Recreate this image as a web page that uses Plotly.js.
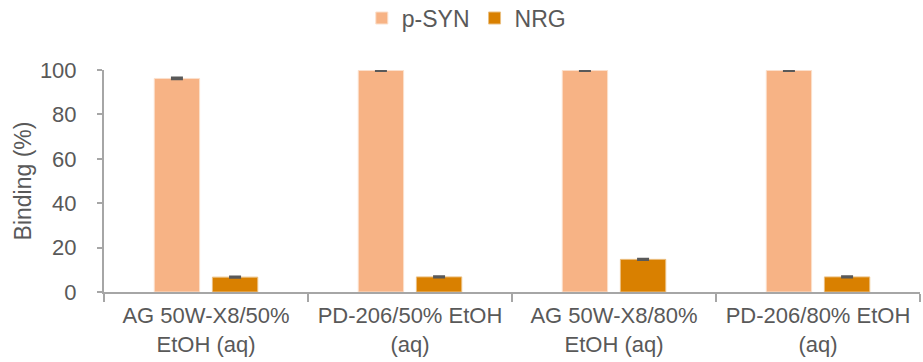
<!DOCTYPE html>
<html><head><meta charset="utf-8">
<script src="https://cdn.plot.ly/plotly-3.0.1.min.js"></script>
<style>body{margin:0;}#c{width:923px;height:362px;}</style>
</head><body><div id="c"></div>
<script>
var categories = ["AG 50W-X8/50%<br>EtOH (aq)", "PD-206/50% EtOH<br>(aq)", "AG 50W-X8/80%<br>EtOH (aq)", "PD-206/80% EtOH<br>(aq)"];
var pSYN = [96.2, 99.8, 99.8, 99.8];
var pSYNErr = [0.4, 0.3, 0.3, 0.3];
var NRG = [6.7, 6.8, 14.7, 6.8];
var NRGErr = [0.3, 0.3, 0.3, 0.3];
var yTicks = [0, 20, 40, 60, 80, 100];

var errStyle = {type: 'data', visible: true, color: '#595959', thickness: 2, width: 6};
var traces = [
  {type: 'bar', name: 'p-SYN', x: categories, y: pSYN,
   error_y: Object.assign({array: pSYNErr}, errStyle),
   marker: {color: '#F7B385', line: {color: '#FBE0CC', width: 1}}},
  {type: 'bar', name: 'NRG', x: categories, y: NRG,
   error_y: Object.assign({array: NRGErr}, errStyle),
   marker: {color: '#D98000', line: {color: '#EBBF80', width: 1}}}
];
var layout = {
  width: 923, height: 362,
  margin: {l: 104, r: 3, t: 70, b: 70, autoexpand: false},
  paper_bgcolor: '#fff', plot_bgcolor: '#fff',
  font: {family: 'Liberation Sans, Arial, sans-serif', color: '#595959', size: 22},
  barmode: 'group', bargap: 0.43, bargroupgap: 0.22,
  showlegend: true,
  legend: {orientation: 'h', x: 0.444, xanchor: 'center', y: 1.234, yanchor: 'middle',
           font: {size: 23, color: '#595959'}, itemwidth: 30, traceorder: 'normal'},
  xaxis: {type: 'category', showline: true, linecolor: '#A6A6A6', linewidth: 2,
          ticks: 'outside', tickson: 'boundaries', ticklen: 8, tickcolor: '#A6A6A6', tickwidth: 2,
          showgrid: false, tickfont: {size: 22, color: '#595959'}, ticklabelstandoff: 3},
  yaxis: {range: [0, 100], tickvals: yTicks, showline: true, linecolor: '#A6A6A6', linewidth: 2,
          ticks: 'outside', ticklen: 5, tickcolor: '#A6A6A6', tickwidth: 2, showgrid: false, zeroline: false,
          tickfont: {size: 22, color: '#595959'}, ticklabelstandoff: 16,
          title: {text: 'Binding (%)', font: {size: 23, color: '#595959'}, standoff: 2}}
};
Plotly.newPlot('c', traces, layout, {displayModeBar: false, staticPlot: true});
</script></body></html>
